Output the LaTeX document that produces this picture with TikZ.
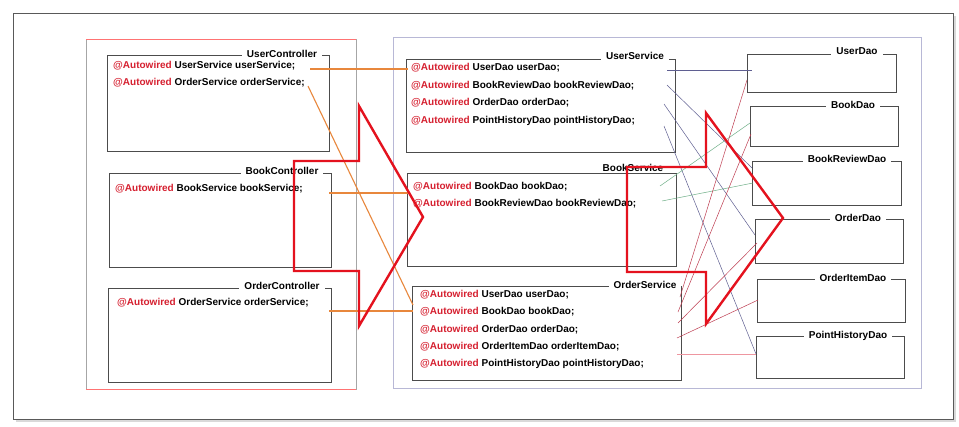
\documentclass[tikz,border=0pt]{standalone}
\usepackage{fontspec}
\setmainfont{Liberation Sans}

\definecolor{autored}{RGB}{214,32,48}
\definecolor{arrowred}{RGB}{228,18,30}
\definecolor{wireorange}{RGB}{232,135,60}
\definecolor{wireblue}{RGB}{95,95,145}
\definecolor{wiregreen}{RGB}{110,175,135}
\definecolor{wirered}{RGB}{190,60,80}
\definecolor{wirepink}{RGB}{238,150,160}
\definecolor{framelav}{RGB}{184,184,214}

\newcommand{\autowired}{\textcolor{autored}{@Autowired}}

\tikzset{
    classbox/.style = {draw = black!70, line width = 0.9pt, anchor = north west, inner sep = 0pt},
    boxtitle/.style = {fill = white, inner xsep = 5pt, inner ysep = 1pt, font = \bfseries},
    wired/.style = {anchor = west, inner sep = 0pt, font = \bfseries},
    bigarrow/.style = {draw = arrowred, line width = 2.4pt, line join = miter},
    orangewire/.style = {wireorange, line width = 1.1pt},
    bluewire/.style = {wireblue, line width = 0.5pt},
    greenwire/.style = {wiregreen, line width = 0.5pt},
    redwire/.style = {wirered, line width = 0.5pt},
    pinkwire/.style = {wirepink, line width = 1pt}
}

\begin{document}
\begin{tikzpicture}[x = 1pt, y = -1pt]
    \useasboundingbox (0, 0) rectangle (959, 426);

        % Boundary
        \draw[black!15, line width = 1.5pt] (955, 16) -- (955, 421) -- (16, 421);
        \draw[black!65, line width = 0.8pt, fill = white] (13, 13) rectangle (953, 419);
        \draw[black!35, line width = 0.7pt] (86, 39) rectangle (356, 389);
        \draw[red!55, line width = 0.7pt] (86, 39) -- (356, 39);
        \draw[red!55, line width = 0.7pt] (86, 389) -- (356, 389);
        \draw[framelav, line width = 0.9pt] (393, 37) rectangle (921, 388);

        % Controllers
        \node[classbox, minimum width = 222pt, minimum height = 96pt] (ucbox) at (107, 55) {};
        \node[classbox, minimum width = 222pt, minimum height = 94pt] (bcbox) at (109, 173) {};
        \node[classbox, minimum width = 223pt, minimum height = 94pt] (ocbox) at (108, 288) {};
        \node[boxtitle] (uctitle) at (282, 54) {UserController};
        \node[boxtitle] (bctitle) at (282, 171) {BookController};
        \node[boxtitle] (octitle) at (282, 286) {OrderController};
        \node[wired] (uc1) at (113, 66) {\autowired{} UserService userService;};
        \node[wired] (uc2) at (113, 83) {\autowired{} OrderService orderService;};
        \node[wired] (bc1) at (115, 189) {\autowired{} BookService bookService;};
        \node[wired] (oc1) at (117, 303) {\autowired{} OrderService orderService;};

        % Services
        \node[classbox, minimum width = 269pt, minimum height = 93pt] (usbox) at (406, 59) {};
        \node[classbox, minimum width = 269pt, minimum height = 93pt] (bsbox) at (407, 173) {};
        \node[classbox, minimum width = 269pt, minimum height = 94pt] (osbox) at (412, 286) {};
        \node[boxtitle] (ustitle) at (635, 56) {UserService};
        \node[boxtitle] (bstitle) at (633, 168) {BookService};
        \node[boxtitle] (ostitle) at (645, 285) {OrderService};
        \node[wired] (us1) at (411, 68) {\autowired{} UserDao userDao;};
        \node[wired] (us2) at (411, 86) {\autowired{} BookReviewDao bookReviewDao;};
        \node[wired] (us3) at (411, 103) {\autowired{} OrderDao orderDao;};
        \node[wired] (us4) at (411, 121) {\autowired{} PointHistoryDao pointHistoryDao;};
        \node[wired] (bs1) at (413, 187) {\autowired{} BookDao bookDao;};
        \node[wired] (bs2) at (413, 204) {\autowired{} BookReviewDao bookReviewDao;};
        \node[wired] (os1) at (420, 295) {\autowired{} UserDao userDao;};
        \node[wired] (os2) at (420, 312) {\autowired{} BookDao bookDao;};
        \node[wired] (os3) at (420, 330) {\autowired{} OrderDao orderDao;};
        \node[wired] (os4) at (420, 347) {\autowired{} OrderItemDao orderItemDao;};
        \node[wired] (os5) at (420, 364) {\autowired{} PointHistoryDao pointHistoryDao;};

        % Daos
        \node[classbox, minimum width = 149pt, minimum height = 38pt] (udao) at (747, 54) {};
        \node[classbox, minimum width = 148pt, minimum height = 40pt] (bdao) at (750, 106) {};
        \node[classbox, minimum width = 149pt, minimum height = 44pt] (brdao) at (752, 161) {};
        \node[classbox, minimum width = 148pt, minimum height = 44pt] (odao) at (755, 219) {};
        \node[classbox, minimum width = 148pt, minimum height = 43pt] (oidao) at (757, 279) {};
        \node[classbox, minimum width = 148pt, minimum height = 42pt] (phdao) at (756, 336) {};
        \node[boxtitle] (udaotitle) at (857, 51) {UserDao};
        \node[boxtitle] (bdaotitle) at (853, 105) {BookDao};
        \node[boxtitle] (brdaotitle) at (847, 159) {BookReviewDao};
        \node[boxtitle] (odaotitle) at (858, 218) {OrderDao};
        \node[boxtitle] (oidaotitle) at (853, 278) {OrderItemDao};
        \node[boxtitle] (phdaotitle) at (848, 336) {PointHistoryDao};

        % Wire ends
        \coordinate (ucA) at (310, 69);
        \coordinate (ucB) at (308, 86);
        \coordinate (bcA) at (329, 193);
        \coordinate (ocA) at (329, 311);
        \coordinate (usIn) at (408, 69);
        \coordinate (bsIn) at (408, 193);
        \coordinate (osInA) at (413, 305);
        \coordinate (osInB) at (413, 311);
        \coordinate (usA) at (667, 70);
        \coordinate (usB) at (667, 85);
        \coordinate (usC) at (664, 104);
        \coordinate (usD) at (664, 126);
        \coordinate (bsA) at (660, 186);
        \coordinate (bsB) at (662, 201);
        \coordinate (osA) at (680, 297);
        \coordinate (osB) at (678, 312);
        \coordinate (osC) at (678, 323);
        \coordinate (osD) at (677, 338);
        \coordinate (osE) at (677, 354);
        \coordinate (udaoIn) at (752, 70);
        \coordinate (udaoInR) at (747, 80);
        \coordinate (bdaoInG) at (750, 123);
        \coordinate (bdaoInR) at (751, 134);
        \coordinate (brdaoInB) at (752, 168);
        \coordinate (brdaoInG) at (753, 183);
        \coordinate (odaoInB) at (755, 235);
        \coordinate (odaoInR) at (757, 243);
        \coordinate (oidaoInR) at (758, 300);
        \coordinate (phdaoIn) at (756, 354);

        % Controller to service wires
        \draw[orangewire] (ucA) -- (usIn);
        \draw[orangewire] (ucB) -- (osInA);
        \draw[orangewire] (bcA) -- (bsIn);
        \draw[orangewire] (ocA) -- (osInB);

        % Service to dao wires
        \draw[bluewire] (usA) -- (udaoIn);
        \draw[bluewire] (usB) -- (brdaoInB);
        \draw[bluewire] (usC) -- (odaoInB);
        \draw[bluewire] (usD) -- (phdaoIn);
        \draw[greenwire] (bsA) -- (bdaoInG);
        \draw[greenwire] (bsB) -- (brdaoInG);
        \draw[redwire] (osA) -- (udaoInR);
        \draw[redwire] (osB) -- (bdaoInR);
        \draw[redwire] (osC) -- (odaoInR);
        \draw[redwire] (osD) -- (oidaoInR);
        \draw[pinkwire] (osE) -- (phdaoIn);

        % Big arrows
        \draw[bigarrow] (294, 161) -- (359, 161) -- (359, 106) -- (423, 217) -- (359, 326) -- (359, 271) -- (294, 271) -- cycle;
        \draw[bigarrow] (627, 167) -- (706, 167) -- (706, 113) -- (783, 218) -- (706, 324) -- (706, 272) -- (627, 272) -- cycle;
\end{tikzpicture}
\end{document}
